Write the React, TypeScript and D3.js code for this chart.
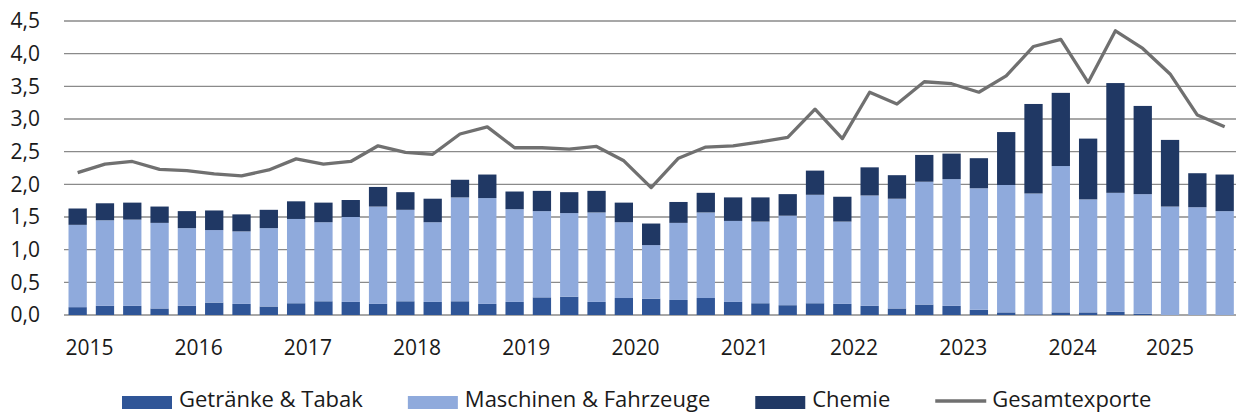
import React, { useEffect, useRef } from 'react';
import * as d3 from 'd3';

// Quartalswerte 2015 Q1 bis 2025 Q3
const years = ['2015', '2016', '2017', '2018', '2019', '2020', '2021', '2022', '2023', '2024', '2025'];
const quarters = ['Q1', 'Q2', 'Q3', 'Q4'];

const getraenke = [
  0.12, 0.14, 0.14, 0.10, 0.14, 0.19, 0.17, 0.13, 0.18, 0.21, 0.20, 0.17,
  0.21, 0.20, 0.21, 0.17, 0.20, 0.27, 0.28, 0.20, 0.26, 0.25, 0.23, 0.26,
  0.20, 0.18, 0.15, 0.18, 0.17, 0.14, 0.10, 0.16, 0.14, 0.08, 0.04, 0.01,
  0.04, 0.04, 0.05, 0.02, 0.0, 0.0, 0.0,
];
const maschinen = [
  1.26, 1.31, 1.32, 1.31, 1.19, 1.11, 1.11, 1.20, 1.29, 1.21, 1.30, 1.49,
  1.40, 1.22, 1.59, 1.62, 1.42, 1.32, 1.28, 1.37, 1.16, 0.82, 1.18, 1.31,
  1.24, 1.25, 1.37, 1.66, 1.26, 1.69, 1.68, 1.88, 1.94, 1.86, 1.95, 1.85,
  2.24, 1.73, 1.82, 1.83, 1.66, 1.65, 1.59,
];
const chemie = [
  0.25, 0.26, 0.26, 0.25, 0.26, 0.30, 0.26, 0.28, 0.27, 0.30, 0.26, 0.30,
  0.27, 0.36, 0.27, 0.36, 0.27, 0.31, 0.32, 0.33, 0.30, 0.33, 0.32, 0.30,
  0.36, 0.37, 0.33, 0.37, 0.38, 0.43, 0.36, 0.41, 0.39, 0.46, 0.81, 1.37,
  1.12, 0.93, 1.68, 1.35, 1.02, 0.52, 0.56,
];
const gesamt = [
  2.18, 2.31, 2.35, 2.23, 2.21, 2.16, 2.13, 2.22, 2.39, 2.31, 2.35, 2.59,
  2.49, 2.46, 2.77, 2.88, 2.56, 2.56, 2.54, 2.58, 2.36, 1.95, 2.40, 2.57,
  2.59, 2.65, 2.72, 3.15, 2.70, 3.41, 3.23, 3.57, 3.54, 3.41, 3.66, 4.11,
  4.22, 3.56, 4.35, 4.08, 3.69, 3.06, 2.88,
];
const yTicks = [0, 0.5, 1, 1.5, 2, 2.5, 3, 3.5, 4, 4.5];

const seriesNames = ['Getränke & Tabak', 'Maschinen & Fahrzeuge', 'Chemie'];
const lineName = 'Gesamtexporte';

const categories = years.flatMap(y => quarters.map(q => `${y}-${q}`)).slice(0, gesamt.length);

export default function App() {
  const ref = useRef<SVGSVGElement>(null);

  useEffect(() => {
    document.body.style.margin = '0';
    if (!ref.current) return;

    const width = 1236;
    const left = 64;
    const font = '"Open Sans", sans-serif';
    const colors = ['#2f5597', '#8faadc', '#203864'];
    const lineColor = '#707070';

    const svg = d3.select(ref.current);
    svg.selectAll('*').remove();

    const rows = categories.map((c, i) => ({
      cat: c,
      g: getraenke[i],
      m: maschinen[i],
      c: chemie[i],
    }));
    const stacked = d3.stack<any>().keys(['g', 'm', 'c'])(rows);

    const step = 27.31;
    const x = d3.scaleBand()
      .domain(categories)
      .range([left, left + step * categories.length])
      .paddingInner(0.33)
      .paddingOuter(0.165);

    const y = d3.scaleLinear().domain([0, 4.5]).range([315, 21]);

    // Gitternetz
    svg.append('g')
      .selectAll('line')
      .data(yTicks)
      .enter()
      .append('line')
      .attr('x1', left)
      .attr('x2', width)
      .attr('y1', d => y(d))
      .attr('y2', d => y(d))
      .attr('stroke', '#8a8a8a')
      .attr('stroke-width', 1.4);

    // Y-Achse
    svg.append('g')
      .selectAll('text')
      .data(yTicks)
      .enter()
      .append('text')
      .attr('x', 40)
      .attr('y', d => y(d))
      .attr('dy', '0.35em')
      .attr('text-anchor', 'end')
      .style('font-family', font)
      .style('font-size', '21px')
      .attr('fill', '#1a1a1a')
      .text(d => d3.format('.1f')(d).replace('.', ','));

    // Balken
    const layers = svg.append('g')
      .selectAll('g')
      .data(stacked)
      .enter()
      .append('g')
      .attr('fill', (d, i) => colors[i]);

    layers.selectAll('rect')
      .data(d => d)
      .enter()
      .append('rect')
      .attr('x', d => x(d.data.cat) ?? 0)
      .attr('y', d => y(d[1]))
      .attr('height', d => Math.max(0, y(d[0]) - y(d[1])))
      .attr('width', x.bandwidth());

    // Gesamtexporte
    const line = d3.line<number>()
      .x((d, i) => (x(categories[i]) ?? 0) + x.bandwidth() / 2)
      .y(d => y(d));

    svg.append('path')
      .datum(gesamt)
      .attr('d', line)
      .attr('fill', 'none')
      .attr('stroke', lineColor)
      .attr('stroke-width', 3.3)
      .attr('stroke-linejoin', 'round');

    // Jahresbeschriftung
    svg.append('g')
      .selectAll('text')
      .data(years)
      .enter()
      .append('text')
      .attr('x', (d, i) => {
        const cx = (x(`${d}-Q1`) ?? 0) + x.bandwidth() / 2;
        return i < years.length - 1 ? cx + step * 0.43 : cx;
      })
      .attr('y', 348)
      .attr('dy', '0.35em')
      .attr('text-anchor', 'middle')
      .style('font-family', font)
      .style('font-size', '21px')
      .attr('fill', '#1a1a1a')
      .text(d => d);

    // Legende
    const legend = svg.append('g');
    let lx = 122;
    const ly = 399;
    const items = [...seriesNames, lineName];
    items.forEach((name, i) => {
      if (i < 3) {
        legend.append('rect')
          .attr('x', lx)
          .attr('y', 396)
          .attr('width', 50)
          .attr('height', 13)
          .attr('fill', colors[i]);
      } else {
        legend.append('line')
          .attr('x1', lx)
          .attr('x2', lx + 51)
          .attr('y1', 401)
          .attr('y2', 401)
          .attr('stroke', lineColor)
          .attr('stroke-width', 3.3);
      }
      const t = legend.append('text')
        .attr('x', lx + 57)
        .attr('y', ly)
        .attr('dy', '0.35em')
        .style('font-family', font)
        .style('font-size', '22px')
        .attr('fill', '#1a1a1a')
        .text(name);
      const w = (t.node() as SVGTextElement).getComputedTextLength();
      lx += 57 + w + 45;
    });
  }, []);

  return <svg ref={ref} width={1236} height={414} style={{ display: 'block' }} />;
}
